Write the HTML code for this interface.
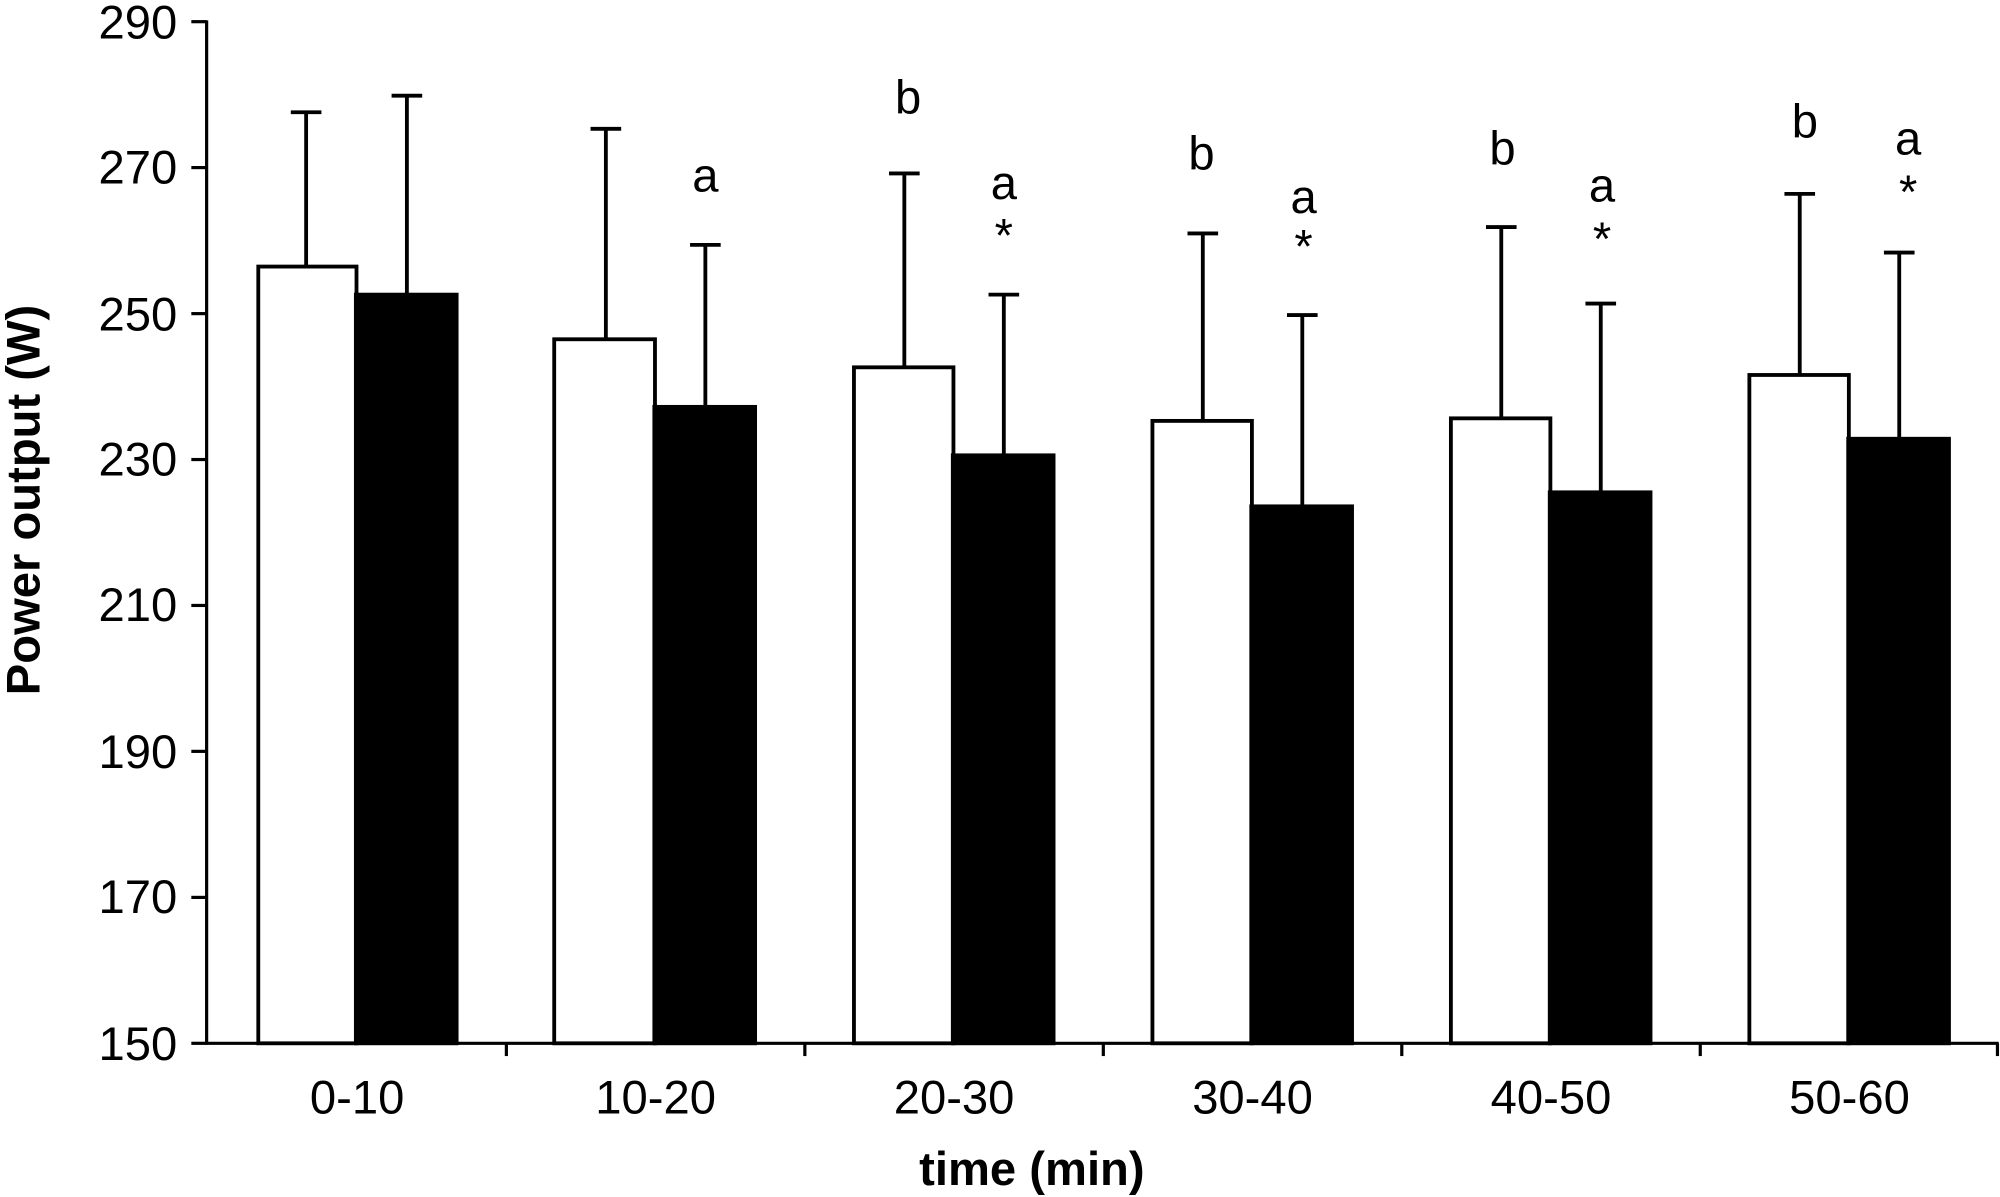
<!DOCTYPE html>
<html><head><style>html,body{margin:0;padding:0;background:#fff}svg{display:block}</style></head>
<body>
<svg width="2000" height="1197" viewBox="0 0 1568 938.5" preserveAspectRatio="none" xmlns="http://www.w3.org/2000/svg" font-family="Liberation Sans, Arial, sans-serif">
<g stroke="#000" stroke-width="2.5" fill="none">
<line x1="162" y1="16" x2="162" y2="819"/>
<line x1="161" y1="818" x2="1567" y2="818"/>
<line x1="150" y1="17" x2="162" y2="17"/>
<line x1="150" y1="131.4" x2="162" y2="131.4"/>
<line x1="150" y1="245.9" x2="162" y2="245.9"/>
<line x1="150" y1="360.3" x2="162" y2="360.3"/>
<line x1="150" y1="474.7" x2="162" y2="474.7"/>
<line x1="150" y1="589.1" x2="162" y2="589.1"/>
<line x1="150" y1="703.6" x2="162" y2="703.6"/>
<line x1="150" y1="818" x2="162" y2="818"/>
<line x1="397" y1="818" x2="397" y2="828"/>
<line x1="631" y1="818" x2="631" y2="828"/>
<line x1="865" y1="818" x2="865" y2="828"/>
<line x1="1099" y1="818" x2="1099" y2="828"/>
<line x1="1333" y1="818" x2="1333" y2="828"/>
<line x1="1566" y1="818" x2="1566" y2="828"/>
</g>
<g font-size="37" text-anchor="end" fill="#000">
<text x="139" y="30">290</text><text x="139" y="144">270</text><text x="139" y="259">250</text>
<text x="139" y="373">230</text><text x="139" y="487">210</text><text x="139" y="602">190</text>
<text x="139" y="716">170</text><text x="139" y="831">150</text>
</g>
<g stroke="#000" stroke-width="3">
<line x1="240" y1="88" x2="240" y2="209"/><line x1="228" y1="88" x2="252" y2="88"/>
<line x1="319" y1="75" x2="319" y2="231"/><line x1="307" y1="75" x2="331" y2="75"/>
<rect x="202.5" y="209" width="77" height="609" fill="#fff"/><rect x="279" y="231" width="79" height="587" fill="#000"/>
<line x1="475" y1="101" x2="475" y2="266"/><line x1="463" y1="101" x2="487" y2="101"/>
<line x1="553" y1="192" x2="553" y2="319"/><line x1="541" y1="192" x2="565" y2="192"/>
<rect x="434.5" y="266" width="79" height="552" fill="#fff"/><rect x="513" y="319" width="79" height="499" fill="#000"/>
<line x1="709" y1="136" x2="709" y2="288"/><line x1="697" y1="136" x2="721" y2="136"/>
<line x1="787" y1="231" x2="787" y2="357"/><line x1="775" y1="231" x2="799" y2="231"/>
<rect x="669.5" y="288" width="78" height="530" fill="#fff"/><rect x="747" y="357" width="79" height="461" fill="#000"/>
<line x1="943" y1="183" x2="943" y2="330"/><line x1="931" y1="183" x2="955" y2="183"/>
<line x1="1021" y1="247" x2="1021" y2="397"/><line x1="1009" y1="247" x2="1033" y2="247"/>
<rect x="903.5" y="330" width="78" height="488" fill="#fff"/><rect x="981" y="397" width="79" height="421" fill="#000"/>
<line x1="1177" y1="178" x2="1177" y2="328"/><line x1="1165" y1="178" x2="1189" y2="178"/>
<line x1="1255" y1="238" x2="1255" y2="386"/><line x1="1243" y1="238" x2="1267" y2="238"/>
<rect x="1137.5" y="328" width="78" height="490" fill="#fff"/><rect x="1215" y="386" width="79" height="432" fill="#000"/>
<line x1="1411" y1="152" x2="1411" y2="294"/><line x1="1399" y1="152" x2="1423" y2="152"/>
<line x1="1489" y1="198" x2="1489" y2="344"/><line x1="1477" y1="198" x2="1501" y2="198"/>
<rect x="1371.5" y="294" width="78" height="524" fill="#fff"/><rect x="1449" y="344" width="79" height="474" fill="#000"/>
</g>
<g font-size="37" text-anchor="middle" fill="#000">
<text x="553" y="150">a</text>
<text x="712" y="89">b</text><text x="787" y="156">a</text><text x="787" y="197">*</text>
<text x="942" y="133">b</text><text x="1022" y="167">a</text><text x="1022" y="206">*</text>
<text x="1178" y="129">b</text><text x="1256" y="158">a</text><text x="1256" y="200">*</text>
<text x="1415" y="108">b</text><text x="1496" y="121">a</text><text x="1496" y="163">*</text>
<text x="280" y="873">0-10</text><text x="514" y="873">10-20</text><text x="748" y="873">20-30</text>
<text x="982" y="873">30-40</text><text x="1216" y="873">40-50</text><text x="1450" y="873">50-60</text>
<text x="809" y="929" font-weight="bold">time (min)</text>
<text transform="translate(31,392) rotate(-90)" font-weight="bold">Power output (W)</text>
</g>
</svg>
</body></html>
